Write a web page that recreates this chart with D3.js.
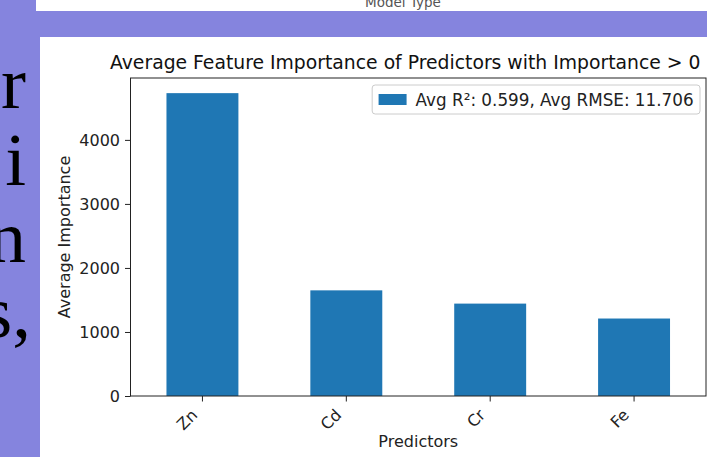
<!DOCTYPE html>
<html>
<head>
<meta charset="utf-8">
<script src="https://cdn.jsdelivr.net/npm/d3@7/dist/d3.min.js"></script>
<style>
  html, body { margin: 0; padding: 0; background: #8584de; }
  svg { display: block; }
</style>
</head>
<body>
<svg id="chart" width="707" height="457"></svg>
<script>
// Predictors and their average importance
const predictors = ["Zn", "Cd", "Cr", "Fe"];
const avgImportance = [4730, 1650, 1443, 1210];
const yTickValues = [0, 1000, 2000, 3000, 4000];
const legendLabels = ["Avg R\u00b2: 0.599, Avg RMSE: 11.706"];
const chartTitle = "Average Feature Importance of Predictors with Importance > 0";
const xAxisTitle = "Predictors";
const yAxisTitle = "Average Importance";
const upperCaption = "Model Type";
// Slide text fragments running down the left edge
const slideFragments = [["r"], ["f", "i"], ["n"], ["s,"]];

const W = 707, H = 457;
const svg = d3.select("#chart");
const font = "'DejaVu Sans', sans-serif";
const fs = 16;
const ink = "#222";

// slide background
svg.append("rect").attr("width", W).attr("height", H).attr("fill", "#8584de");

// slide body text (clipped at the text box edge)
svg.append("clipPath").attr("id", "slideClip")
  .append("rect").attr("x", 0).attr("y", 0).attr("width", 27).attr("height", H);
const slideText = svg.append("g").attr("clip-path", "url(#slideClip)");
const fragBase = [108, 185, 262, 337];
const fragEnd = [26, 26, 26, 31];
slideText.selectAll("text").data(slideFragments).join("text")
  .attr("x", (d, i) => fragEnd[i])
  .attr("y", (d, i) => fragBase[i])
  .attr("text-anchor", "end")
  .attr("font-family", "'Liberation Serif', serif")
  .attr("font-size", 75)
  .style("font-variant-ligatures", "none")
  .attr("fill", "#000")
  .each(function (parts) {
    const t = d3.select(this);
    parts.forEach((p, k) => {
      t.append("tspan").attr("dx", k > 0 ? 9 : null).text(p);
    });
  });

// strip of the previous figure at the top
svg.append("rect").attr("x", 36).attr("y", 0).attr("width", W - 36).attr("height", 11).attr("fill", "#fff");
svg.append("text")
  .attr("x", 403).attr("y", 7)
  .attr("text-anchor", "middle")
  .attr("font-family", font).attr("font-size", 13.5)
  .attr("fill", "#555")
  .text(upperCaption);

// figure panel
svg.append("rect").attr("x", 40).attr("y", 37).attr("width", W - 40).attr("height", H - 37).attr("fill", "#fff");

// axes box
const ax = { left: 130.5, right: 706, top: 78, bottom: 396 };

const x = d3.scaleBand()
  .domain(predictors)
  .range([ax.left, ax.right])
  .paddingInner(0.5)
  .paddingOuter(0.25);

const y = d3.scaleLinear()
  .domain([0, d3.max(avgImportance) * 1.05])
  .range([ax.bottom, ax.top]);

// bars
svg.append("g").selectAll("rect")
  .data(predictors.map((p, i) => ({ p, v: avgImportance[i] })))
  .join("rect")
  .attr("x", d => x(d.p))
  .attr("y", d => y(d.v))
  .attr("width", x.bandwidth())
  .attr("height", d => y(0) - y(d.v))
  .attr("fill", "#1f77b4");

// y axis
const yAxis = svg.append("g")
  .attr("transform", `translate(${ax.left},0)`)
  .call(d3.axisLeft(y).tickValues(yTickValues).tickSize(5.5).tickPadding(5).tickFormat(d3.format("d")));
yAxis.select(".domain").remove();
yAxis.selectAll(".tick line").attr("stroke", ink).attr("stroke-width", 1);
yAxis.selectAll(".tick text").attr("font-family", font).attr("font-size", fs).attr("fill", ink);

// x axis
const xAxis = svg.append("g")
  .attr("transform", `translate(0,${ax.bottom})`)
  .call(d3.axisBottom(x).tickSize(5.5).tickPadding(0));
xAxis.select(".domain").remove();
xAxis.selectAll(".tick line").attr("stroke", ink).attr("stroke-width", 1);
xAxis.selectAll(".tick text")
  .attr("font-family", font).attr("font-size", fs).attr("fill", ink)
  .attr("text-anchor", "end")
  .attr("dy", null)
  .attr("y", null)
  .attr("transform", "translate(-4,20) rotate(-45)");

// spines
svg.append("rect")
  .attr("x", ax.left).attr("y", ax.top)
  .attr("width", ax.right - ax.left).attr("height", ax.bottom - ax.top)
  .attr("fill", "none").attr("stroke", ink).attr("stroke-width", 1);

// title
svg.append("text")
  .attr("x", 110).attr("y", 69)
  .attr("font-family", font).attr("font-size", 18.8)
  .attr("fill", "#111")
  .text(chartTitle);

// axis titles
svg.append("text")
  .attr("x", (ax.left + ax.right) / 2).attr("y", 447)
  .attr("text-anchor", "middle")
  .attr("font-family", font).attr("font-size", fs).attr("fill", ink)
  .text(xAxisTitle);

svg.append("text")
  .attr("transform", `translate(70,${(ax.top + ax.bottom) / 2}) rotate(-90)`)
  .attr("text-anchor", "middle")
  .attr("font-family", font).attr("font-size", fs).attr("fill", ink)
  .text(yAxisTitle);

// legend
const lg = svg.append("g");
const lgRight = ax.right - 6, lgTop = ax.top + 7;
const lgText = lg.append("text")
  .attr("font-family", font).attr("font-size", 16.8).attr("fill", ink)
  .text(legendLabels[0]);
const tw = lgText.node().getComputedTextLength();
const pad = 6.4, handleW = 28, handleGap = 9, lgH = 29;
const lgW = pad + handleW + handleGap + tw + pad;
const lgLeft = lgRight - lgW;
lg.insert("rect", "text")
  .attr("x", lgLeft).attr("y", lgTop)
  .attr("width", lgW).attr("height", lgH)
  .attr("rx", 3)
  .attr("fill", "#fff").attr("fill-opacity", 0.8)
  .attr("stroke", "#cccccc").attr("stroke-width", 1);
lg.insert("rect", "text")
  .attr("x", lgLeft + pad).attr("y", lgTop + lgH / 2 - 5.5)
  .attr("width", handleW).attr("height", 11)
  .attr("fill", "#1f77b4");
lgText.attr("x", lgLeft + pad + handleW + handleGap).attr("y", lgTop + lgH / 2 + 6);
</script>
</body>
</html>
